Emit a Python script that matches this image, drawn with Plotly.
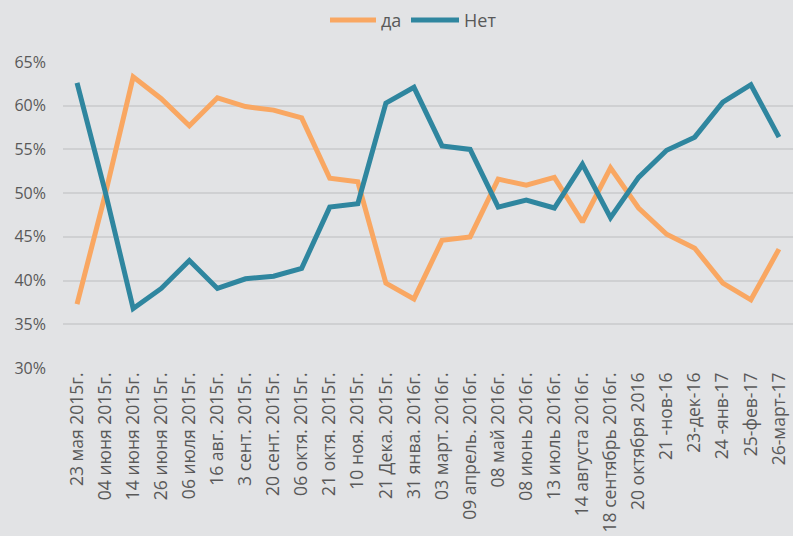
import plotly.graph_objects as go

dates = [
    "23 мая 2015г.", "04 июня 2015г.", "14 июня 2015г.", "26 июня 2015г.",
    "06 июля 2015г.", "16 авг. 2015г.", "3 сент. 2015г.", "20 сент. 2015г.",
    "06 октя. 2015г.", "21 октя. 2015г.", "10 ноя. 2015г.", "21 Дека. 2015г.",
    "31 янва. 2016г.", "03 март. 2016г.", "09 апрель. 2016г.", "08 май 2016г.",
    "08 июнь 2016г.", "13 июль 2016г.", "14 августа 2016г.", "18 сентябрь 2016г.",
    "20 октября 2016", "21 -нов-16", "23-дек-16", "24 -янв-17", "25-фев-17",
    "26-март-17",
]

da = [37.3, 49.8, 63.3, 60.8, 57.7, 60.9, 59.9, 59.5, 58.6, 51.7, 51.3, 39.7,
      37.9, 44.6, 45.0, 51.6, 50.9, 51.8, 46.7, 52.9, 48.3, 45.3, 43.7, 39.7,
      37.8, 43.6]
net = [62.6, 50.2, 36.8, 39.1, 42.3, 39.1, 40.2, 40.5, 41.4, 48.4, 48.8, 60.3,
       62.1, 55.4, 55.0, 48.4, 49.2, 48.3, 53.3, 47.2, 51.8, 54.9, 56.4, 60.4,
       62.4, 56.4]

series = [("да", da, "#f9a762"), ("Нет", net, "#2f869f")]

BG = "#e2e3e5"
TEXT = "#595959"
L, T, W, H = 63, 62, 730, 306


def px_to_paper(x, y):
    return (x - L) / W, (T + H - y) / H


fig = go.Figure()
for name, vals, color in series:
    fig.add_trace(go.Scatter(x=dates, y=[v / 100 for v in vals], mode="lines",
                             name=name, line=dict(color=color, width=5),
                             showlegend=False))

# legend drawn by hand so the swatches are as long as in the original
legend_pos = [(330, 376), (411, 459)]
for (name, _, color), (x0, x1) in zip(series, legend_pos):
    px0, py = px_to_paper(x0, 20)
    px1, _py = px_to_paper(x1, 20)
    fig.add_shape(type="line", xref="paper", yref="paper", x0=px0, x1=px1,
                  y0=py, y1=py, line=dict(color=color, width=5))
    fig.add_annotation(text=name, xref="paper", yref="paper", x=px1 + 3 / W, y=py,
                       xanchor="left", yanchor="middle", showarrow=False,
                       font=dict(size=18, color=TEXT))

fig.update_layout(
    width=793, height=536,
    paper_bgcolor=BG, plot_bgcolor=BG,
    margin=dict(l=L, r=793 - L - W, t=T, b=536 - T - H),
    font=dict(family="Open Sans", color=TEXT, size=14),
    showlegend=False,
)
fig.update_xaxes(type="category", tickangle=-90, showgrid=False, showline=False,
                 ticks="", range=[-0.5, 25.5], tickfont=dict(size=17.5, color=TEXT))
fig.update_yaxes(range=[0.3, 0.65], dtick=0.05, tickformat=".0%", showgrid=True,
                 gridcolor="#cfd0d2", gridwidth=1.5, zeroline=False, ticks="",
                 ticklabelstandoff=16, tickfont=dict(size=16, color=TEXT))

fig.write_html(
    "out.html",
    config={"displayModeBar": False},
    post_script="document.body.style.margin='0';"
                "document.body.style.overflow='hidden';"
                "document.body.style.background='#e2e3e5';",
)
